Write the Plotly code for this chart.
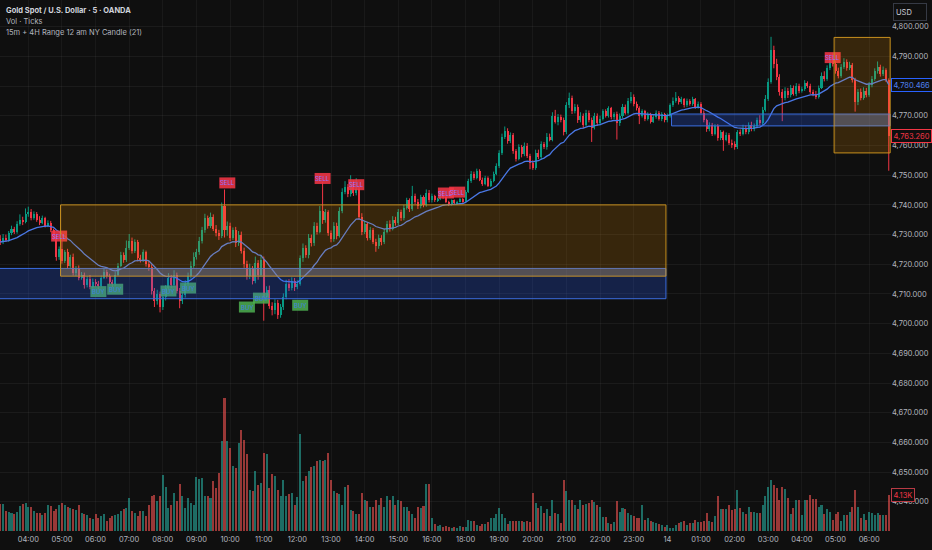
import numpy as np
import pandas as pd
import plotly.graph_objects as go

# XAUUSD 5m (OANDA), 03:10 -> 06:35 next day, daily break 17:00-18:00 not drawn
FIRST_OPEN = 4728.5

# one row per hour, first row is 03:10-03:55
CLOSE = [
    4727.5, 4729.0, 4728.2, 4730.5, 4731.8, 4731.0, 4733.6, 4735.0, 4734.2, 4737.0,
    4737.5, 4735.5, 4737.0, 4735.0, 4734.0, 4735.5, 4733.0, 4734.0, 4731.5, 4729.0, 4722.5, 4725.0,
    4721.0, 4724.0, 4719.5, 4722.5, 4717.0, 4718.5, 4715.5, 4716.5, 4713.0, 4715.0, 4712.5, 4714.0,
    4713.5, 4712.8, 4715.5, 4717.5, 4716.0, 4714.0, 4713.2, 4716.5, 4719.5, 4723.0, 4721.5, 4725.5,
    4728.0, 4724.5, 4727.5, 4722.0, 4721.5, 4724.0, 4720.0, 4719.0, 4711.0, 4707.5, 4710.0, 4705.5,
    4709.0, 4712.0, 4715.5, 4713.0, 4716.5, 4711.0, 4707.5, 4709.5, 4713.5, 4716.0, 4719.5, 4722.5,
    4724.0, 4728.0, 4731.5, 4735.5, 4733.0, 4736.0, 4732.0, 4730.5, 4729.5, 4739.5, 4731.5, 4733.0,
    4729.0, 4731.5, 4727.0, 4730.0, 4724.5, 4720.0, 4716.0, 4718.5, 4714.5, 4720.5, 4716.5, 4721.5,
    4709.0, 4711.5, 4706.0, 4704.5, 4707.0, 4703.0, 4705.5, 4709.0, 4713.5, 4712.0, 4714.5, 4712.5,
    4713.5, 4722.0, 4725.5, 4723.0, 4729.0, 4727.0, 4733.0, 4731.0, 4738.0, 4735.0, 4737.5, 4730.5,
    4728.5, 4733.0, 4729.5, 4738.0, 4744.5, 4746.0, 4743.5, 4747.0, 4744.0, 4745.5, 4736.0, 4731.0,
    4733.5, 4729.0, 4731.5, 4727.5, 4726.0, 4729.0, 4727.5, 4731.0, 4733.5, 4732.0, 4735.0, 4734.0,
    4737.5, 4735.5, 4739.0, 4741.5, 4738.5, 4743.0, 4741.0, 4739.5, 4742.5, 4740.0, 4744.0, 4741.5,
    4743.0, 4741.5, 4742.0, 4744.5, 4742.5, 4741.0, 4740.0, 4741.5, 4740.5, 4741.0, 4742.0, 4741.0,
    4744.5, 4748.0, 4750.5, 4749.0, 4751.5, 4748.5, 4747.0, 4749.0, 4746.5, 4748.0, 4750.5, 4753.0,
    4757.5, 4763.0, 4765.0, 4761.5, 4763.5, 4758.0, 4755.5, 4759.5, 4757.0, 4760.0, 4756.5, 4754.0,
    4752.5, 4757.5, 4756.0, 4760.5, 4759.5, 4763.0, 4762.0, 4770.0, 4768.0, 4769.5, 4768.5, 4764.5,
    4773.5, 4776.0, 4771.5, 4773.0, 4768.5, 4770.0, 4767.0, 4771.0, 4768.5, 4766.0, 4770.0, 4767.5,
    4769.0, 4771.5, 4770.0, 4772.5, 4769.5, 4770.5, 4767.5, 4770.0, 4773.0, 4771.0, 4775.0, 4776.5,
    4774.0, 4772.5, 4770.0, 4771.5, 4769.0, 4770.5, 4768.0, 4769.5, 4771.0, 4769.0, 4770.5, 4768.5,
    4770.0, 4773.5, 4775.0, 4776.0, 4774.5, 4775.5, 4773.5, 4775.0, 4774.0, 4775.5, 4773.0, 4774.0,
    4771.0, 4768.5, 4765.5, 4767.0, 4764.0, 4766.5, 4762.5, 4764.5, 4762.0, 4763.5, 4761.0, 4760.5,
    4759.5, 4764.5, 4764.0, 4766.0, 4764.5, 4767.0, 4765.5, 4766.5, 4768.5, 4767.5, 4772.0, 4775.5,
    4781.5, 4792.0, 4787.5, 4783.0, 4778.0, 4776.0, 4778.5, 4777.0, 4779.5, 4777.5, 4780.0, 4778.5,
    4779.0, 4781.0, 4780.0, 4778.0, 4777.5, 4776.5, 4779.5, 4783.5, 4782.5, 4786.0, 4789.0, 4787.5,
    4785.0, 4783.5, 4786.5, 4788.0, 4786.0, 4787.0, 4782.0, 4774.5, 4778.0, 4776.0, 4778.5, 4777.0,
    4780.5, 4782.5, 4785.0, 4786.5, 4784.0, 4785.5, 4782.0, 4763.26,
]
HIGH = [
    4729.8, 4730.2, 4730.0, 4731.2, 4733.0, 4732.6, 4734.5, 4736.8, 4736.0, 4738.8,
    4739.4, 4738.6, 4737.8, 4737.6, 4736.2, 4736.4, 4736.0, 4734.8, 4734.6, 4732.0, 4729.8, 4726.0,
    4727.8, 4724.8, 4725.2, 4723.2, 4723.6, 4719.4, 4719.6, 4717.4, 4717.2, 4716.0, 4716.4, 4715.2,
    4715.0, 4714.4, 4716.2, 4718.6, 4718.2, 4716.8, 4714.8, 4717.4, 4720.4, 4724.2, 4724.0, 4728.0,
    4730.2, 4729.0, 4728.4, 4728.2, 4723.2, 4725.0, 4724.6, 4721.2, 4720.0, 4712.0, 4711.4, 4710.8,
    4710.2, 4713.0, 4717.0, 4716.4, 4718.0, 4717.2, 4712.0, 4710.6, 4714.6, 4717.2, 4721.0, 4724.0,
    4725.2, 4729.2, 4732.6, 4737.0, 4736.4, 4737.4, 4736.8, 4733.2, 4731.6, 4740.8, 4745.2, 4734.4,
    4734.0, 4732.4, 4732.6, 4731.2, 4731.0, 4725.6, 4721.2, 4720.2, 4719.4, 4722.6, 4721.4, 4723.0,
    4722.6, 4712.6, 4712.8, 4707.2, 4708.2, 4708.0, 4706.6, 4710.2, 4714.8, 4715.0, 4715.6, 4715.4,
    4714.6, 4723.0, 4727.0, 4726.4, 4730.2, 4730.0, 4734.2, 4734.0, 4739.6, 4747.7, 4738.6, 4738.2,
    4731.4, 4734.2, 4734.0, 4739.2, 4745.6, 4748.0, 4747.0, 4750.0, 4748.2, 4749.0, 4746.4, 4737.2,
    4734.6, 4734.2, 4732.6, 4732.2, 4728.6, 4730.0, 4729.8, 4732.0, 4734.6, 4734.8, 4736.2, 4736.0,
    4738.6, 4738.4, 4740.0, 4742.4, 4742.2, 4746.4, 4743.8, 4742.0, 4743.4, 4743.2, 4745.2, 4745.0,
    4743.8, 4743.4, 4742.4, 4745.0, 4744.8, 4742.8, 4741.4, 4741.8, 4741.8, 4741.4, 4742.4, 4742.3,
    4745.0, 4748.8, 4751.4, 4751.2, 4752.2, 4752.0, 4749.2, 4749.8, 4749.6, 4748.8, 4751.2, 4754.0,
    4758.4, 4764.0, 4766.4, 4765.8, 4764.4, 4764.2, 4758.8, 4760.4, 4760.2, 4761.0, 4760.8, 4757.2,
    4755.0, 4758.6, 4758.6, 4761.4, 4761.2, 4764.2, 4764.0, 4771.2, 4772.0, 4770.6, 4770.4, 4769.4,
    4774.6, 4777.8, 4776.8, 4774.0, 4773.8, 4771.2, 4770.8, 4772.0, 4771.8, 4769.4, 4771.0, 4770.8,
    4770.0, 4772.2, 4772.2, 4773.2, 4773.0, 4771.2, 4771.4, 4770.8, 4774.0, 4773.8, 4776.0, 4778.0,
    4777.2, 4774.8, 4773.2, 4772.2, 4772.0, 4771.2, 4771.0, 4770.2, 4771.8, 4771.6, 4771.2, 4771.0,
    4770.8, 4774.2, 4776.2, 4778.0, 4776.6, 4776.4, 4776.0, 4775.8, 4775.6, 4776.4, 4776.0, 4774.8,
    4774.6, 4771.8, 4769.0, 4767.8, 4767.6, 4767.2, 4767.2, 4765.2, 4765.0, 4764.4, 4764.2, 4762.0,
    4761.4, 4765.2, 4765.4, 4767.0, 4766.8, 4767.8, 4768.0, 4767.4, 4769.4, 4770.2, 4773.0, 4777.0,
    4782.6, 4796.6, 4793.6, 4789.2, 4784.0, 4779.0, 4779.6, 4779.4, 4780.4, 4780.2, 4781.0, 4780.8,
    4779.8, 4782.0, 4781.6, 4780.8, 4778.8, 4778.4, 4780.2, 4784.6, 4785.0, 4787.0, 4790.6, 4791.0,
    4788.4, 4786.2, 4787.4, 4789.4, 4789.0, 4788.2, 4787.8, 4782.8, 4779.0, 4779.2, 4779.6, 4779.4,
    4781.4, 4783.4, 4786.0, 4788.3, 4787.2, 4786.6, 4786.0, 4782.6,
]
LOW = [
    4726.5, 4726.8, 4727.5, 4727.6, 4729.8, 4730.2, 4730.3, 4733.0, 4733.2, 4733.8,
    4736.0, 4734.8, 4735.0, 4734.3, 4733.2, 4733.5, 4732.4, 4732.5, 4730.8, 4728.2, 4721.2, 4721.5,
    4720.2, 4720.4, 4718.6, 4718.8, 4716.2, 4716.0, 4714.6, 4714.8, 4711.8, 4712.2, 4711.6, 4711.8,
    4712.4, 4711.6, 4712.2, 4715.0, 4715.2, 4713.2, 4712.2, 4712.6, 4716.0, 4719.0, 4720.5, 4720.8,
    4724.8, 4723.6, 4723.8, 4721.0, 4720.6, 4720.8, 4719.2, 4717.8, 4709.8, 4705.6, 4706.4, 4703.8,
    4704.6, 4707.8, 4711.2, 4712.0, 4712.2, 4710.2, 4705.2, 4706.6, 4708.8, 4712.8, 4715.2, 4718.8,
    4721.6, 4723.2, 4727.0, 4730.6, 4732.0, 4732.2, 4731.2, 4729.4, 4728.2, 4728.8, 4729.0, 4729.6,
    4727.8, 4728.2, 4725.8, 4726.2, 4723.6, 4718.8, 4714.8, 4715.0, 4713.2, 4713.6, 4714.8, 4715.8,
    4701.0, 4707.6, 4705.0, 4702.8, 4703.2, 4701.6, 4702.0, 4704.6, 4708.2, 4711.0, 4711.2, 4711.0,
    4711.6, 4712.8, 4720.8, 4722.2, 4722.0, 4726.0, 4726.2, 4730.0, 4730.4, 4733.6, 4734.0, 4729.6,
    4727.4, 4727.6, 4728.4, 4729.0, 4737.2, 4743.6, 4742.6, 4742.8, 4743.0, 4743.2, 4735.0, 4729.8,
    4730.2, 4728.0, 4728.2, 4726.8, 4724.2, 4725.2, 4726.4, 4726.8, 4730.4, 4731.0, 4731.4, 4733.0,
    4733.2, 4734.6, 4734.8, 4738.4, 4737.6, 4738.0, 4740.2, 4738.6, 4738.8, 4739.2, 4739.4, 4740.8,
    4740.8, 4741.0, 4741.0, 4741.6, 4742.0, 4740.6, 4739.6, 4739.8, 4740.2, 4740.2, 4740.8, 4740.7,
    4740.8, 4744.0, 4747.4, 4748.4, 4748.6, 4748.0, 4746.4, 4746.6, 4746.0, 4746.0, 4747.6, 4750.0,
    4752.4, 4756.8, 4762.2, 4760.6, 4760.8, 4757.2, 4754.6, 4755.0, 4756.0, 4756.4, 4755.8, 4752.0,
    4751.8, 4751.8, 4755.4, 4755.2, 4758.8, 4758.6, 4761.4, 4761.4, 4767.4, 4766.8, 4767.8, 4763.4,
    4763.8, 4772.6, 4770.6, 4770.8, 4767.6, 4767.8, 4765.8, 4766.4, 4767.8, 4761.2, 4765.4, 4766.6,
    4766.8, 4768.4, 4769.4, 4769.4, 4768.8, 4768.8, 4762.0, 4766.6, 4769.2, 4770.4, 4770.4, 4774.2,
    4773.2, 4771.8, 4767.2, 4769.4, 4768.2, 4768.4, 4767.4, 4767.6, 4769.0, 4768.4, 4768.2, 4767.8,
    4767.8, 4769.4, 4773.0, 4774.4, 4773.8, 4774.0, 4772.8, 4773.0, 4773.4, 4773.4, 4772.4, 4772.4,
    4770.4, 4767.8, 4764.6, 4764.8, 4763.2, 4763.4, 4761.6, 4761.8, 4758.2, 4761.4, 4760.2, 4759.2,
    4758.6, 4758.8, 4763.2, 4763.4, 4763.8, 4763.8, 4764.8, 4764.8, 4765.8, 4766.8, 4766.8, 4771.4,
    4775.0, 4780.8, 4786.0, 4782.0, 4776.8, 4768.2, 4775.2, 4776.0, 4776.2, 4776.8, 4776.6, 4777.6,
    4777.8, 4778.4, 4779.4, 4777.4, 4776.6, 4775.6, 4775.8, 4779.0, 4781.6, 4781.8, 4785.4, 4786.6,
    4784.2, 4782.6, 4782.8, 4785.8, 4785.2, 4785.4, 4781.2, 4771.4, 4773.6, 4775.2, 4775.4, 4776.2,
    4776.4, 4779.6, 4781.8, 4784.2, 4783.2, 4783.4, 4781.4, 4751.5,
]
# tick volume, thousands
VOLUME_K = [
    3.1, 3.1, 2.3, 2.2, 2.1, 2.0, 2.2, 2.9, 3.1, 3.2,
    2.8, 2.8, 2.3, 2.1, 2.1, 1.8, 2.1, 3.0, 2.9, 2.3, 2.5, 3.0,
    3.2, 3.0, 2.8, 2.6, 2.5, 2.4, 3.0, 2.1, 2.0, 1.8, 1.5, 1.4,
    1.9, 1.5, 1.7, 1.9, 1.1, 1.5, 1.7, 1.8, 1.9, 2.3, 2.5, 2.6,
    3.8, 2.3, 2.1, 1.7, 2.3, 2.3, 1.7, 3.0, 4.0, 4.1, 3.4, 4.0,
    6.4, 5.1, 2.6, 3.0, 4.4, 3.4, 5.4, 4.0, 2.6, 3.8, 3.2, 3.0,
    6.2, 6.0, 6.1, 4.0, 4.0, 3.8, 5.7, 4.9, 6.7, 10.3, 15.3, 10.3,
    9.5, 7.4, 7.2, 10.1, 11.6, 10.4, 8.8, 4.7, 4.6, 6.9, 5.3, 5.5,
    9.0, 8.8, 4.9, 6.5, 6.3, 4.7, 4.0, 5.9, 4.0, 4.2, 4.4, 3.0,
    3.9, 11.1, 5.7, 6.3, 6.9, 7.3, 7.5, 8.0, 8.2, 8.0, 8.2, 9.0,
    5.9, 4.6, 4.4, 4.2, 3.0, 5.1, 5.3, 2.4, 2.3, 2.0, 2.0, 4.4,
    3.6, 3.4, 2.7, 2.7, 3.6, 3.0, 3.8, 2.8, 4.0, 3.6, 4.0, 3.0,
    3.6, 3.4, 2.8, 2.7, 2.3, 1.9, 1.5, 2.8, 2.6, 2.9, 5.4, 5.4,
    1.5, 0.8, 0.6, 0.7, 0.5, 0.6, 0.5, 0.4, 0.5, 0.4, 0.6, 0.5,
    0.5, 1.3, 1.2, 1.1, 0.7, 0.6, 0.8, 0.8, 1.0, 1.5, 1.5, 1.9,
    2.6, 2.0, 1.5, 0.8, 1.2, 1.2, 1.2, 1.2, 1.2, 1.0, 1.1, 1.0,
    4.4, 3.2, 2.6, 2.9, 2.1, 2.5, 1.7, 3.6, 2.1, 1.9, 0.9, 5.8,
    4.6, 3.6, 3.6, 3.0, 2.5, 3.6, 3.0, 3.1, 3.2, 3.5, 3.3, 3.0,
    2.8, 1.6, 1.6, 0.9, 0.8, 1.0, 3.4, 2.2, 2.6, 2.5, 2.1, 1.8,
    1.7, 1.5, 1.5, 3.0, 1.3, 1.5, 1.1, 1.0, 0.9, 0.8, 0.7, 0.5,
    0.7, 0.4, 0.4, 0.7, 0.9, 1.0, 1.1, 0.7, 0.9, 0.9, 1.3, 1.0,
    1.0, 1.1, 2.1, 1.1, 1.0, 1.7, 4.0, 2.5, 2.5, 2.5, 3.0, 2.4,
    2.5, 4.7, 2.6, 2.2, 1.9, 2.8, 2.2, 2.2, 2.1, 2.1, 3.0, 4.0,
    5.1, 5.8, 5.3, 4.9, 3.6, 5.1, 4.8, 3.8, 2.0, 2.6, 3.6, 3.6,
    1.8, 3.6, 3.6, 4.1, 3.7, 3.7, 2.8, 3.0, 1.9, 2.5, 2.2, 1.3,
    1.9, 2.2, 1.1, 1.8, 1.8, 2.2, 2.8, 4.7, 2.8, 1.5, 2.0, 1.3,
    2.2, 2.1, 1.8, 2.1, 1.8, 1.8, 1.8, 4.13,
]

# signal labels: candle index, price
SELL_IDX = [21, 81, 115, 127, 159, 163, 297]
SELL_PRICE = [4729.5, 4747.4, 4748.9, 4746.8, 4744.0, 4744.3, 4789.6]
BUY_IDX = [35, 41, 60, 67, 88, 93, 107]
BUY_PRICE = [4710.8, 4711.6, 4711.0, 4712.0, 4705.6, 4708.6, 4706.2]

# zones: (from index, to index, low, high)
RANGE_BOXES = [(21.5, 237.5, 4716.0, 4740.0), (297.5, 317.5, 4757.5, 4796.4)]
LEVEL_BOXES = [(-5.0, 237.5, 4708.4, 4718.6), (239.5, 317.5, 4766.6, 4770.6)]

MA_LAST = 4780.466
LAST_VOL_TEXT = "4.13K"

BG = "#0f0f0f"
UP = "#089981"
DOWN = "#f23645"
AXIS_TEXT = "#b2b5be"
FONT = "Inter, 'Noto Sans', sans-serif"

times = pd.date_range("2026-01-13 03:10", "2026-01-13 16:55", freq="5min").append(
    pd.date_range("2026-01-13 18:00", "2026-01-14 06:35", freq="5min"))
idx = np.arange(len(times))

close = np.array(CLOSE)
opn = np.concatenate([[FIRST_OPEN], close[:-1]])
high = np.maximum(np.array(HIGH), np.maximum(opn, close))
low = np.minimum(np.array(LOW), np.minimum(opn, close))
rising = close >= opn
ma = pd.Series(close).ewm(span=21, adjust=False).mean()

fig = go.Figure()

vol_colors = np.where(rising, "rgba(38,166,154,0.62)", "rgba(239,83,80,0.62)")
fig.add_trace(go.Bar(x=idx, y=VOLUME_K, yaxis="y2", width=0.72,
                     marker=dict(color=vol_colors, line_width=0), hoverinfo="skip"))

for mask, color in ((rising, UP), (~rising, DOWN)):
    wx, wy = [], []
    for i in idx[mask]:
        wx += [i, i, None]
        wy += [low[i], high[i], None]
    fig.add_trace(go.Scatter(x=wx, y=wy, mode="lines", line=dict(color=color, width=1),
                             hoverinfo="skip"))
    base = np.minimum(opn, close)[mask]
    height = np.maximum(np.abs(close - opn)[mask], 0.35)
    fig.add_trace(go.Bar(x=idx[mask], y=height, base=base, width=0.72,
                         marker=dict(color=color, line_width=0), hoverinfo="skip"))

fig.add_trace(go.Scatter(x=idx, y=ma, mode="lines", line=dict(color="#4a78e6", width=1.3),
                         hoverinfo="skip"))

# signal badges first, so the zone fills lie over them like on the chart
shapes = []
for ids, prices, fill in ((SELL_IDX, SELL_PRICE, "rgba(242,54,69,0.88)"),
                          (BUY_IDX, BUY_PRICE, "rgba(76,175,80,0.85)")):
    for i, p in zip(ids, prices):
        shapes.append(dict(type="rect", xref="x", yref="y", xsizemode="pixel", ysizemode="pixel",
                           xanchor=i, yanchor=p, x0=-8, x1=8, y0=-5.5, y1=5.5,
                           fillcolor=fill, line_width=0, layer="above"))

for x0, x1, lo, hi in LEVEL_BOXES:
    shapes.append(dict(type="rect", xref="x", yref="y", x0=x0, x1=x1, y0=lo, y1=hi,
                       fillcolor="rgba(41,98,255,0.24)", line=dict(color="#3b6ee0", width=1),
                       layer="above"))
for x0, x1, lo, hi in RANGE_BOXES:
    shapes.append(dict(type="rect", xref="x", yref="y", x0=x0, x1=x1, y0=lo, y1=hi,
                       fillcolor="rgba(255,152,0,0.17)", line=dict(color="#c8901e", width=1),
                       layer="above"))
    # where the range box sits over a level zone it shows grey
    for bx0, bx1, blo, bhi in LEVEL_BOXES:
        ox0, ox1 = max(x0, bx0), min(x1, bx1)
        olo, ohi = max(lo, blo), min(hi, bhi)
        if ox0 < ox1 and olo < ohi:
            shapes.append(dict(type="rect", xref="x", yref="y", x0=ox0, x1=ox1, y0=olo, y1=ohi,
                               fillcolor="rgba(150,150,160,0.26)", line_width=0, layer="above"))

ann = []
for i, p in zip(SELL_IDX, SELL_PRICE):
    ann.append(dict(x=i, y=p, xref="x", yref="y", text="SELL", showarrow=False,
                    font=dict(size=6, color="#8f74ff", family=FONT)))
for i, p in zip(BUY_IDX, BUY_PRICE):
    ann.append(dict(x=i, y=p, xref="x", yref="y", text="BUY", showarrow=False,
                    font=dict(size=6, color="#3f7fe0", family=FONT)))

legend_lines = [
    ("<b>Gold Spot / U.S. Dollar · 5 · OANDA</b>", "#d1d4dc"),
    ("Vol · Ticks", "#b2b5be"),
    ("15m + 4H Range 12 am NY Candle (21)", "#b2b5be"),
]
for k, (txt, col) in enumerate(legend_lines):
    ann.append(dict(x=0, y=1, xref="paper", yref="paper", xanchor="left", yanchor="top",
                    xshift=4, yshift=-4 - 11 * k, text=txt, showarrow=False,
                    font=dict(size=7.5, color=col, family=FONT)))

ann.append(dict(x=1, y=MA_LAST, xref="paper", yref="y", xanchor="left", text=f"{MA_LAST:,.3f}",
                showarrow=False, font=dict(size=7.5, color="#4f82f0", family=FONT),
                bgcolor=BG, bordercolor="#2962ff", borderwidth=1, borderpad=1.5))
ann.append(dict(x=1, y=close[-1], xref="paper", yref="y", xanchor="left", text=f"{close[-1]:,.3f}",
                showarrow=False, font=dict(size=7.5, color="#f23645", family=FONT),
                bgcolor=BG, bordercolor="#f23645", borderwidth=1, borderpad=1.5))
ann.append(dict(x=1, y=VOLUME_K[-1], xref="paper", yref="y2", xanchor="left", text=LAST_VOL_TEXT,
                showarrow=False, font=dict(size=7.5, color="#f23645", family=FONT),
                bgcolor=BG, bordercolor="#b83a44", borderwidth=1, borderpad=1.5))
ann.append(dict(x=1, y=1, xref="paper", yref="paper", xanchor="left", yanchor="top",
                xshift=2, yshift=-3, text="USD", showarrow=False, align="left", width=28, height=12,
                font=dict(size=7.5, color="#d1d4dc", family=FONT),
                bordercolor="#363a45", borderwidth=1, borderpad=2))

hour_marks = [i for i, t in enumerate(times) if t.minute == 0]
hour_text = [str(times[i].day) if times[i].hour == 0 else times[i].strftime("%H:%M") for i in hour_marks]

fig.update_layout(
    width=932, height=550,
    paper_bgcolor=BG, plot_bgcolor=BG,
    margin=dict(l=0, r=41, t=0, b=17),
    showlegend=False, barmode="overlay", bargap=0,
    font=dict(family=FONT, size=7.5, color=AXIS_TEXT),
    xaxis=dict(range=[-0.1, 317.8], tickvals=hour_marks, ticktext=hour_text,
               showgrid=True, gridcolor="rgba(255,255,255,0.045)", zeroline=False,
               showline=False, ticks="", tickfont=dict(size=7.5, color=AXIS_TEXT)),
    yaxis=dict(side="right", range=[4629.5, 4809.0], tickvals=list(range(4640, 4801, 10)),
               tickformat=",.3f", showgrid=True, gridcolor="rgba(255,255,255,0.05)",
               zeroline=False, showline=False, ticks="", tickfont=dict(size=7.5, color=AXIS_TEXT)),
    yaxis2=dict(overlaying="y", range=[-0.23, 60.9], visible=False),
    shapes=shapes,
    annotations=ann,
)

# the page's default body margin would push the 932x550 figure off the window
fig.write_html("out.html", config={"displayModeBar": False},
               post_script="document.body.style.margin='0';")
